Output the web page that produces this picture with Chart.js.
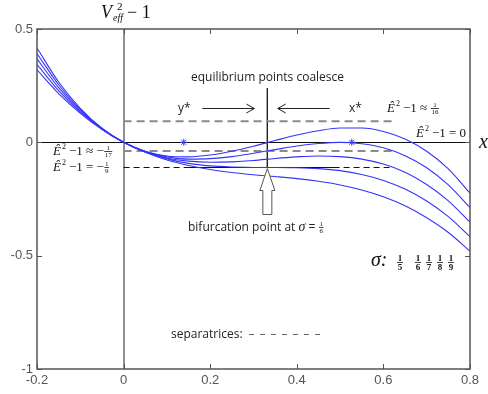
<!DOCTYPE html>
<html>
<head>
<meta charset="utf-8">
<script src="https://cdn.jsdelivr.net/npm/chart.js@4.4.1/dist/chart.umd.min.js"></script>
<style>
html,body{margin:0;padding:0;background:#fff;}
#wrap{width:488px;height:394px;}
</style>
</head>
<body>
<div id="wrap"><canvas id="c" width="488" height="394"></canvas></div>
<script>
// ---- data ----
const xValues = [-0.2,-0.15,-0.1,-0.05,0,0.05,0.1,0.15,0.2,0.25,0.3,0.35,0.4,0.45,0.5,0.55,0.6,0.65,0.7,0.75,0.8];
const sigmaLabels = ['1/5','1/6','1/7','1/8','1/9'];
const curveSigma5 = [0.320,0.215,0.128,0.057,0,-0.044,-0.078,-0.102,-0.120,-0.133,-0.143,-0.151,-0.160,-0.172,-0.188,-0.210,-0.240,-0.280,-0.333,-0.398,-0.480];
const curveSigma6 = [0.344,0.228,0.133,0.058,0,-0.043,-0.073,-0.093,-0.104,-0.109,-0.111,-0.111,-0.112,-0.116,-0.125,-0.142,-0.168,-0.206,-0.259,-0.328,-0.416];
const curveSigma7 = [0.368,0.241,0.139,0.059,0,-0.042,-0.069,-0.083,-0.088,-0.086,-0.080,-0.071,-0.064,-0.060,-0.063,-0.074,-0.096,-0.132,-0.186,-0.258,-0.352];
const curveSigma8 = [0.392,0.254,0.144,0.061,0,-0.041,-0.064,-0.074,-0.072,-0.063,-0.048,-0.032,-0.016,-0.005,0,-0.006,-0.024,-0.059,-0.112,-0.188,-0.288];
const curveSigma9 = [0.416,0.266,0.150,0.062,0,-0.039,-0.060,-0.064,-0.056,-0.039,-0.017,0.008,0.032,0.051,0.063,0.063,0.048,0.015,-0.039,-0.117,-0.224];
// separatrix levels and extents
const sepUpperY = 0.093;
const sepMiddleY = -0.038;
const sepLowerY = -0.111;
const sepX = [0, 0.62];
const sepLowerSolidX = [0.145, 0.487];
// bifurcation vertical line
const bifX = 0.332;
const bifY = [0.239, -0.111];
// equilibrium points (asterisks)
const eqX = [0.139, 0.527];
const eqY = [0, 0];
// axis ticks
const xTicks = [-0.2, 0, 0.2, 0.4, 0.6, 0.8];
const yTicks = [-1, -0.5, 0, 0.5];

const curves = [curveSigma5, curveSigma6, curveSigma7, curveSigma8, curveSigma9];
const BLUE = '#3434f8';

const datasets = [];
curves.forEach((arr, i) => {
  datasets.push({
    label: 'sigma ' + sigmaLabels[i],
    data: xValues.map((x, j) => ({x, y: arr[j]})),
    borderColor: BLUE, borderWidth: 1.1, pointRadius: 0,
    cubicInterpolationMode: 'monotone', fill: false
  });
});
function hline(xr, yv, color, width, dash) {
  return {data: xr.map(x => ({x, y: yv})), borderColor: color, borderWidth: width,
    borderDash: dash, pointRadius: 0, fill: false};
}
datasets.push(hline(sepX, sepUpperY, '#8a8a8a', 2, [8, 5]));
datasets.push(hline(sepX, sepMiddleY, '#8a8a8a', 2, [8, 5]));
datasets.push(hline(sepX, sepLowerY, '#111', 1, [6, 4]));
datasets.push(hline(sepLowerSolidX, sepLowerY, '#111', 1, []));
datasets.push({data: bifY.map(y => ({x: bifX, y})), borderColor: '#222', borderWidth: 1, pointRadius: 0});
datasets.push({data: eqX.map((x, i) => ({x, y: eqY[i]})), showLine: false, pointStyle: 'star',
  pointRadius: 3.5, borderColor: BLUE, borderWidth: 1, backgroundColor: BLUE});

const SERIF = '"Liberation Serif", "Times New Roman", serif';
const SANS = '"Open Sans", "Noto Sans", sans-serif';

function rich(ctx, parts, x, base) {
  let cx = x;
  parts.forEach(p => {
    if (p.frac) {
      ctx.font = p.s + 'px ' + SERIF;
      const w = Math.max(ctx.measureText(p.frac[0]).width, ctx.measureText(p.frac[1]).width);
      const mid = cx + w / 2 + 1;
      const by = base - (p.up || 4);
      ctx.textAlign = 'center';
      ctx.textBaseline = 'alphabetic';
      ctx.fillText(p.frac[0], mid, by - 1.5);
      ctx.textBaseline = 'top';
      ctx.fillText(p.frac[1], mid, by + 1);
      ctx.beginPath(); ctx.lineWidth = 0.8; ctx.moveTo(mid - w / 2 - 0.5, by + 0.5); ctx.lineTo(mid + w / 2 + 0.5, by + 0.5); ctx.stroke();
      ctx.textAlign = 'left'; ctx.textBaseline = 'alphabetic';
      cx += w + 3;
    } else {
      ctx.font = p.f;
      ctx.textAlign = 'left'; ctx.textBaseline = 'alphabetic';
      ctx.fillText(p.t, cx, base + (p.dy || 0));
      cx += ctx.measureText(p.t).width + (p.gap || 0);
    }
  });
  return cx;
}

function openHead(ctx, x0, y0, x1, y1) {
  const ang = Math.atan2(y1 - y0, x1 - x0), L = 8, H = 4.5;
  ctx.beginPath();
  ctx.moveTo(x0, y0); ctx.lineTo(x1, y1); ctx.stroke();
  ctx.beginPath();
  ctx.moveTo(x1 - L * Math.cos(ang) + H * Math.sin(ang), y1 - L * Math.sin(ang) - H * Math.cos(ang));
  ctx.lineTo(x1, y1);
  ctx.lineTo(x1 - L * Math.cos(ang) - H * Math.sin(ang), y1 - L * Math.sin(ang) + H * Math.cos(ang));
  ctx.stroke();
}

const annot = {
  id: 'annot',
  afterDraw(chart) {
    const {ctx, chartArea: a, scales: {x, y}} = chart;
    ctx.save();
    // frame
    ctx.strokeStyle = '#555'; ctx.lineWidth = 1.5;
    ctx.strokeRect(a.left, a.top, a.right - a.left, a.bottom - a.top);
    // inner ticks
    ctx.lineWidth = 1; ctx.beginPath();
    xTicks.forEach(v => { const p = Math.round(x.getPixelForValue(v)) + 0.5;
      ctx.moveTo(p, a.bottom); ctx.lineTo(p, a.bottom - 5); ctx.moveTo(p, a.top); ctx.lineTo(p, a.top + 5); });
    yTicks.forEach(v => { const p = Math.round(y.getPixelForValue(v)) + 0.5;
      ctx.moveTo(a.left, p); ctx.lineTo(a.left + 5, p); ctx.moveTo(a.right, p); ctx.lineTo(a.right - 5, p); });
    ctx.stroke();

    ctx.fillStyle = '#111'; ctx.strokeStyle = '#111';
    // top axis label V_eff^2 - 1
    ctx.font = 'italic 18px ' + SERIF; ctx.textAlign = 'left'; ctx.textBaseline = 'alphabetic';
    ctx.fillText('V', 101, 18);
    ctx.font = '11px ' + SERIF; ctx.fillText('2', 117, 10);
    ctx.font = 'italic 10px ' + SERIF; ctx.fillText('eff', 113, 21);
    ctx.font = '18px ' + SERIF; ctx.fillText('\u2212 1', 127, 18);
    // x axis label
    ctx.font = 'italic 20px ' + SERIF; ctx.fillText('x', 479, 148);

    // sans texts
    ctx.fillStyle = '#222';
    ctx.font = '12px ' + SANS;
    ctx.fillText('equilibrium points coalesce', 191, 81);
    ctx.fillText('y*', 178, 112);
    ctx.fillText('x*', 349, 112);
    rich(ctx, [{t: 'bifurcation point at ', f: '12px ' + SANS}, {t: '\u03c3', f: 'italic 14px ' + SERIF}, {t: ' = ', f: '12px ' + SANS}, {frac: ['1', '6'], s: 7, up: 4}], 188, 231);
    ctx.font = '12px ' + SANS;
    ctx.fillText('separatrices:', 171, 338);
    ctx.save(); ctx.strokeStyle = '#666'; ctx.lineWidth = 1; ctx.setLineDash([5, 6]);
    ctx.beginPath(); ctx.moveTo(249, 334.5); ctx.lineTo(322, 334.5); ctx.stroke(); ctx.restore();

    // arrows
    ctx.strokeStyle = '#222'; ctx.lineWidth = 1;
    const ay = Math.round(y.getPixelForValue(0.150)) + 0.5;
    openHead(ctx, x.getPixelForValue(0.182), ay, x.getPixelForValue(0.302), ay);
    openHead(ctx, x.getPixelForValue(0.476), ay, x.getPixelForValue(0.356), ay);

    // hollow up arrow at bifurcation point
    const tx = x.getPixelForValue(bifX), ty = y.getPixelForValue(sepLowerY) + 1;
    ctx.beginPath();
    ctx.moveTo(tx, ty); ctx.lineTo(tx + 7.5, ty + 22); ctx.lineTo(tx + 4.5, ty + 22); ctx.lineTo(tx + 4.5, ty + 46);
    ctx.lineTo(tx - 4.5, ty + 46); ctx.lineTo(tx - 4.5, ty + 22); ctx.lineTo(tx - 7.5, ty + 22); ctx.closePath();
    ctx.fillStyle = '#fff'; ctx.fill(); ctx.strokeStyle = '#555'; ctx.stroke();

    // math labels
    ctx.fillStyle = '#111'; ctx.strokeStyle = '#111';
    const E = {t: '\u00ca', f: 'italic 13px ' + SERIF, gap: 1};
    const sq = {t: '2', f: '8px ' + SERIF, dy: -6, gap: 3};
    rich(ctx, [E, sq, {t: '\u22121 \u2248 ', f: '13px ' + SERIF}, {frac: ['1', '16'], s: 7, up: 4}], 387, 112);
    rich(ctx, [E, sq, {t: '\u22121 = 0', f: '13px ' + SERIF}], 416, 137);
    rich(ctx, [E, sq, {t: '\u22121 \u2248 \u2212', f: '13px ' + SERIF}, {frac: ['1', '17'], s: 7, up: 4}], 53, 155);
    rich(ctx, [E, sq, {t: '\u22121 = \u2212', f: '13px ' + SERIF}, {frac: ['1', '9'], s: 7, up: 4}], 53, 171);
    // sigma legend
    ctx.font = 'italic 20px ' + SERIF; ctx.textAlign = 'left';
    ctx.fillText('\u03c3:', 371, 266);
    const fx = [400, 418, 429, 440, 451];
    sigmaLabels.forEach((s, i) => {
      const [n, d] = s.split('/');
      ctx.font = 'bold 9px ' + SERIF; ctx.textAlign = 'center';
      ctx.textBaseline = 'alphabetic'; ctx.fillText(n, fx[i], 261);
      ctx.textBaseline = 'top'; ctx.fillText(d, fx[i], 263);
      ctx.beginPath(); ctx.lineWidth = 0.8; ctx.moveTo(fx[i] - 3, 262.5); ctx.lineTo(fx[i] + 3, 262.5); ctx.stroke();
    });
    ctx.restore();
  }
};

const isZero = v => Math.abs(v) < 1e-9;
new Chart(document.getElementById('c'), {
  type: 'scatter',
  data: {datasets},
  options: {
    responsive: false, animation: false, devicePixelRatio: 1,
    layout: {padding: {left: 0, top: 29, right: 18, bottom: 0}},
    plugins: {legend: {display: false}, tooltip: {enabled: false}},
    elements: {line: {tension: 0}},
    datasets: {scatter: {showLine: true}},
    scales: {
      x: {type: 'linear', min: -0.2, max: 0.8,
        afterBuildTicks: s => { s.ticks = xTicks.map(v => ({value: v})); },
        afterFit: s => { s.height = 25; },
        ticks: {color: '#555', font: {family: '"Liberation Sans", Arial, sans-serif', size: 13}, padding: 4,
          callback: v => String(Math.round(v * 10) / 10)},
        grid: {drawTicks: false, color: c => (c.tick && isZero(c.tick.value)) ? '#909090' : 'rgba(0,0,0,0)',
          lineWidth: c => (c.tick && isZero(c.tick.value)) ? 2 : 0},
        border: {display: false}},
      y: {type: 'linear', min: -1, max: 0.5,
        afterBuildTicks: s => { s.ticks = yTicks.map(v => ({value: v})); },
        afterFit: s => { s.width = 37; },
        ticks: {color: '#555', font: {family: '"Liberation Sans", Arial, sans-serif', size: 13}, padding: 4,
          callback: v => String(Math.round(v * 10) / 10)},
        grid: {drawTicks: false, color: c => (c.tick && isZero(c.tick.value)) ? '#111' : 'rgba(0,0,0,0)',
          lineWidth: c => (c.tick && isZero(c.tick.value)) ? 1 : 0},
        border: {display: false}}
    }
  },
  plugins: [annot]
});
</script>
</body>
</html>
